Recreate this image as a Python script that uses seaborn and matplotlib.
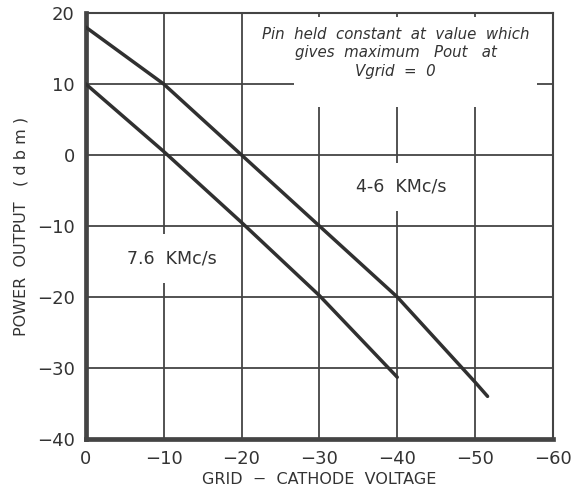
import matplotlib
matplotlib.use("Agg")
import matplotlib.pyplot as plt
import matplotlib.patches as mpatches
import seaborn as sns
import pandas as pd

# Data
v_46 = [0, -10, -20, -30, -40, -50, -51.6]
p_46 = [18, 10, 0, -10, -20, -32, -34]
v_76 = [0, -10, -20, -30, -40]
p_76 = [10, 0.5, -9.5, -19.8, -31.3]
series_names = ["4-6 KMc/s", "7.6 KMc/s"]
x_ticks = [0, -10, -20, -30, -40, -50, -60]
y_ticks = [20, 10, 0, -10, -20, -30, -40]

df = pd.concat([
    pd.DataFrame({"v": v_46, "p": p_46, "s": series_names[0]}),
    pd.DataFrame({"v": v_76, "p": p_76, "s": series_names[1]}),
])

sns.set_theme(style="white")
plt.rcParams['font.family'] = ['DejaVu Sans']

fig = plt.figure(figsize=(5.76, 4.91), dpi=100)
ax = fig.add_axes([0.149, 0.106, 0.811, 0.8675])

ink = "#303030"
sns.lineplot(data=df, x="v", y="p", hue="s", palette=[ink, ink], linewidth=2.5,
             legend=False, ax=ax, zorder=5, sort=False)

ax.set_xlim(0, -60)
ax.set_ylim(-40, 20)
ax.set_xticks(x_ticks)
ax.set_yticks(y_ticks)
ax.set_xticklabels([str(t).replace("-", "\u2212") for t in x_ticks])
ax.set_yticklabels([str(t).replace("-", "\u2212") for t in y_ticks])
ax.tick_params(length=0, labelsize=13, colors="#333333", pad=8)
ax.grid(True, color="#444444", linewidth=1.3, zorder=1)
ax.set_axisbelow(True)

for side, lw in [("left", 3.4), ("bottom", 3.4), ("right", 1.5), ("top", 1.5)]:
    ax.spines[side].set_visible(True)
    ax.spines[side].set_color("#444444")
    ax.spines[side].set_linewidth(lw)

ax.set_xlabel("GRID  \u2212  CATHODE  VOLTAGE", fontsize=11.5, color="#333333", labelpad=3)
ax.set_ylabel("POWER  OUTPUT   ( d b m )", fontsize=11.5, color="#333333", labelpad=6)

# white area behind the note (interrupts grid lines as in the reference)
ax.add_patch(mpatches.Rectangle((-26.8, 6.8), -31.2, 12.6, facecolor="white",
                                edgecolor="none", zorder=1.5))
ax.text(-39.8, 14.4, "Pin  held  constant  at  value  which\ngives  maximum   Pout   at\nVgrid  =  0",
        ha="center", va="center", fontsize=10.8, style="italic", color="#333333",
        linespacing=1.3, zorder=3)

box = dict(facecolor="white", edgecolor="none", pad=11)
ax.text(-40.5, -4.5, "4-6  KMc/s", ha="center", va="center", fontsize=12.5,
        color="#333333", bbox=box, zorder=2)
ax.text(-11.0, -14.6, "7.6  KMc/s", ha="center", va="center", fontsize=12.5,
        color="#333333", bbox=box, zorder=2)

fig.savefig("out.png", dpi=100)
